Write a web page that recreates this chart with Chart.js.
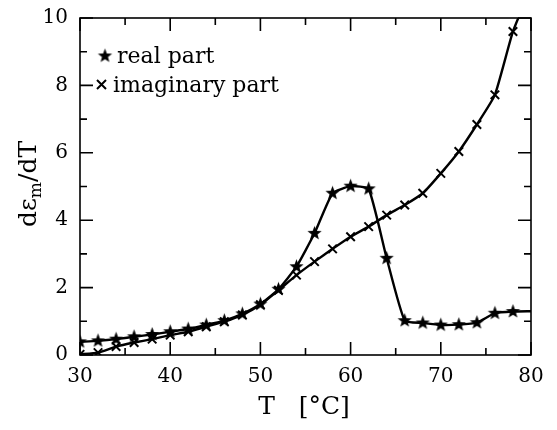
<!DOCTYPE html>
<html>
<head>
<meta charset="utf-8">
<script src="https://cdn.jsdelivr.net/npm/chart.js@4/dist/chart.umd.min.js"></script>
<style>
  body { margin: 0; background: #fff; }
</style>
</head>
<body>
<canvas id="myChart" width="557" height="430"></canvas>
<script>
// temperatures (°C)
const temps = [30, 32, 34, 36, 38, 40, 42, 44, 46, 48, 50, 52, 54, 56, 58, 60, 62, 64, 66, 68, 70, 72, 74, 76, 78, 80];
// d eps_m / dT, real part (stars)
const realPart = [0.39, 0.42, 0.47, 0.54, 0.61, 0.69, 0.77, 0.89, 1.02, 1.22, 1.51, 1.95, 2.62, 3.61, 4.80, 5.01, 4.93, 2.87, 1.02, 0.95, 0.89, 0.90, 0.96, 1.24, 1.29, 1.30];
// imaginary part (crosses)
const imagPart = [0.02, 0.07, 0.25, 0.37, 0.47, 0.59, 0.69, 0.84, 0.99, 1.19, 1.49, 1.92, 2.37, 2.77, 3.15, 3.51, 3.81, 4.15, 4.45, 4.80, 5.39, 6.04, 6.84, 7.72, 9.60, 10.9];
const xTicks = [30, 40, 50, 60, 70, 80];
const yTicks = [0, 2, 4, 6, 8, 10];

const FONT = "'DejaVu Serif', serif";

// five-pointed star marker
function makeStar(r) {
  const c = document.createElement('canvas');
  const s = Math.ceil(r * 2 + 2);
  c.width = s; c.height = s;
  const g = c.getContext('2d');
  g.beginPath();
  for (let i = 0; i < 10; i++) {
    const rad = i % 2 === 0 ? r : r * 0.42;
    const a = -Math.PI / 2 + i * Math.PI / 5;
    g.lineTo(s / 2 + rad * Math.cos(a), s / 2 + rad * Math.sin(a));
  }
  g.closePath();
  g.fillStyle = '#000';
  g.fill();
  return c;
}
const star = makeStar(7.5);

// last point only carries the line to the frame
const markerSize = temps.map((t, i) => i === temps.length - 1 ? 0 : 6);

const framePlugin = {
  id: 'frame',
  afterDatasetsDraw(chart) {
    const { ctx, chartArea: a, scales } = chart;
    ctx.save();
    ctx.strokeStyle = '#000';
    ctx.lineWidth = 1.6;
    ctx.strokeRect(a.left, a.top, a.right - a.left, a.bottom - a.top);
    ctx.beginPath();
    for (let v = 30; v <= 80; v += 5) {
      const x = scales.x.getPixelForValue(v);
      const len = v % 10 === 0 ? 13 : 7;
      ctx.moveTo(x, a.bottom); ctx.lineTo(x, a.bottom - len);
      ctx.moveTo(x, a.top); ctx.lineTo(x, a.top + len);
    }
    for (let v = 0; v <= 10; v += 1) {
      const y = scales.y.getPixelForValue(v);
      const len = v % 2 === 0 ? 13 : 7;
      ctx.moveTo(a.left, y); ctx.lineTo(a.left + len, y);
      ctx.moveTo(a.right, y); ctx.lineTo(a.right - len, y);
    }
    ctx.stroke();
    ctx.restore();
  },
  afterDraw(chart) {
    const { ctx } = chart;
    ctx.save();
    ctx.fillStyle = '#000';
    ctx.strokeStyle = '#000';

    // legend
    const ds = chart.data.datasets;
    ctx.font = '22px ' + FONT;
    ctx.textBaseline = 'middle';
    ctx.drawImage(star, 105 - star.width / 2, 56 - star.height / 2);
    ctx.fillText(ds[0].label, 117, 57);
    ctx.lineWidth = 2;
    ctx.beginPath();
    ctx.moveTo(97, 80); ctx.lineTo(106, 89);
    ctx.moveTo(106, 80); ctx.lineTo(97, 89);
    ctx.stroke();
    ctx.fillText(ds[1].label, 113, 86);

    // x title
    ctx.font = '25px ' + FONT;
    ctx.textAlign = 'center';
    ctx.textBaseline = 'alphabetic';
    ctx.fillText('T   [\u00B0C]', 304, 414);

    // y title with subscript
    ctx.translate(36, 184);
    ctx.rotate(-Math.PI / 2);
    ctx.textAlign = 'left';
    const p1 = 'd\u03B5', sub = 'm', p2 = '/dT';
    ctx.font = '25px ' + FONT;
    const w1 = ctx.measureText(p1).width;
    const w3 = ctx.measureText(p2).width;
    ctx.font = '17px ' + FONT;
    const w2 = ctx.measureText(sub).width;
    const x0 = -(w1 + w2 + w3) / 2;
    ctx.font = '25px ' + FONT;
    ctx.fillText(p1, x0, 0);
    ctx.font = '17px ' + FONT;
    ctx.fillText(sub, x0 + w1, 5);
    ctx.font = '25px ' + FONT;
    ctx.fillText(p2, x0 + w1 + w2, 0);
    ctx.restore();
  }
};

new Chart(document.getElementById('myChart'), {
  type: 'line',
  data: {
    datasets: [
      {
        label: 'real part',
        data: temps.map((t, i) => ({ x: t, y: realPart[i] })),
        borderColor: '#000',
        borderWidth: 2.4,
        pointStyle: star,
        pointRadius: markerSize,
        tension: 0.15,
        fill: false
      },
      {
        label: 'imaginary part',
        data: temps.map((t, i) => ({ x: t, y: imagPart[i] })),
        borderColor: '#000',
        borderWidth: 2.4,
        pointStyle: 'crossRot',
        pointRadius: markerSize,
        pointBorderWidth: 2,
        pointBorderColor: '#000',
        tension: 0.15,
        fill: false
      }
    ]
  },
  options: {
    responsive: false,
    animation: false,
    layout: { padding: { top: 18, right: 26, left: 0, bottom: 0 } },
    plugins: { legend: { display: false }, tooltip: { enabled: false } },
    scales: {
      x: {
        type: 'linear',
        min: 30, max: 80,
        afterBuildTicks: s => { s.ticks = xTicks.map(v => ({ value: v })); },
        ticks: { font: { family: FONT, size: 20 }, color: '#000', padding: 10, maxRotation: 0 },
        grid: { display: false, drawTicks: false },
        border: { display: false },
        afterFit: s => { s.height = 75; s.paddingLeft = 0; s.paddingRight = 0; }
      },
      y: {
        min: 0, max: 10,
        afterBuildTicks: s => { s.ticks = yTicks.map(v => ({ value: v })); },
        ticks: { font: { family: FONT, size: 20 }, color: '#000', padding: 12 },
        grid: { display: false, drawTicks: false },
        border: { display: false },
        afterFit: s => { s.width = 80; s.paddingTop = 0; s.paddingBottom = 0; }
      }
    }
  },
  plugins: [framePlugin]
});
</script>
</body>
</html>
